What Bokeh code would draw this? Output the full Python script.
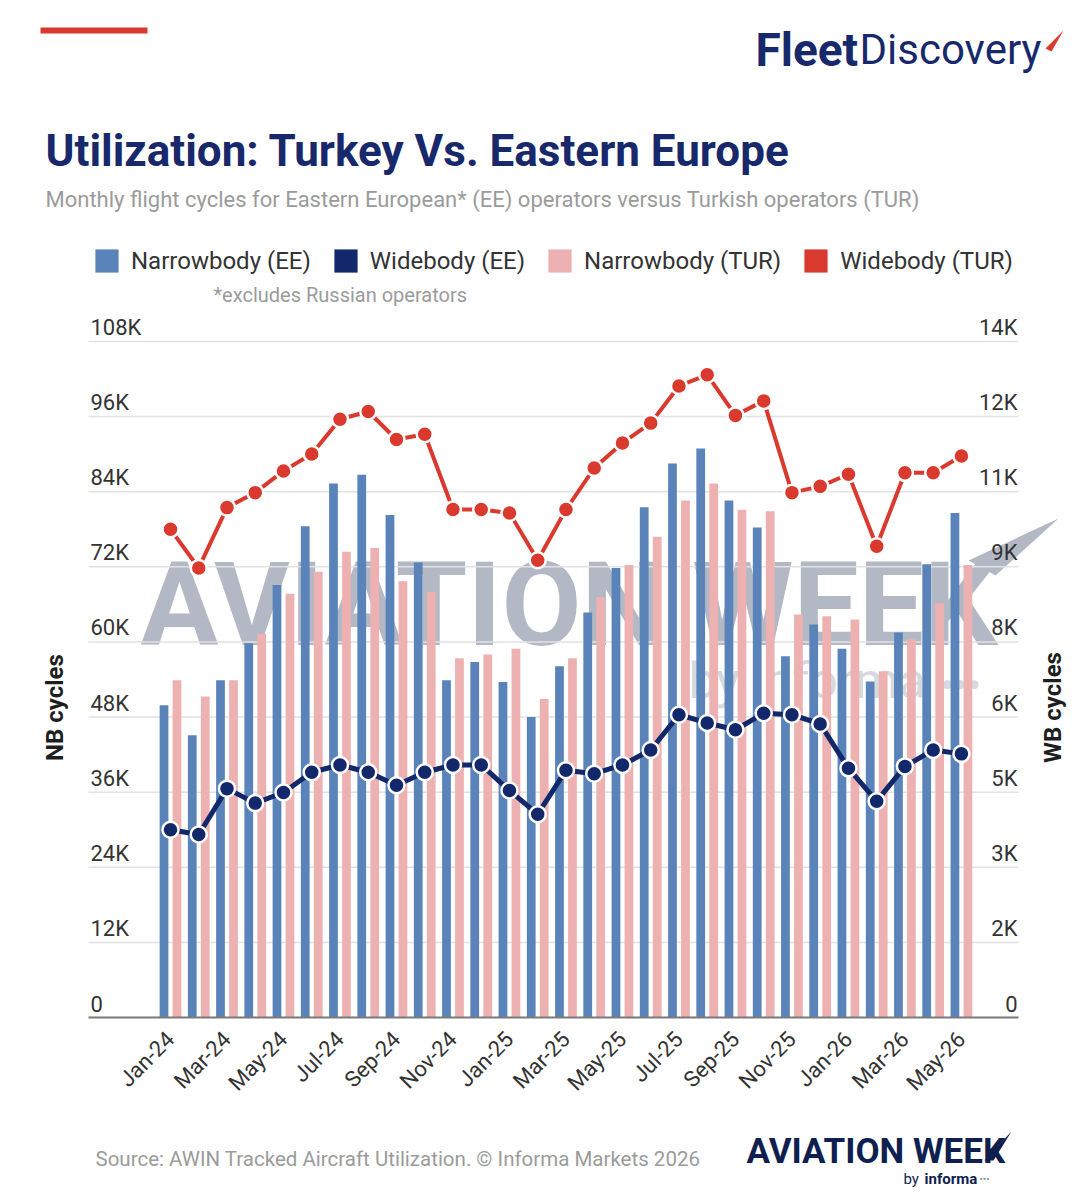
import math
from bokeh.plotting import figure
from bokeh.layouts import column
from bokeh.models import (Range1d, FixedTicker, ColumnDataSource, Label,
                          Legend, LegendItem, BoxAnnotation, PolyAnnotation)
from bokeh.transform import dodge
from bokeh.core.properties import value
from bokeh.embed import file_html
from bokeh.resources import INLINE

# ---------------- data ----------------
months = ["Jan-24", "Feb-24", "Mar-24", "Apr-24", "May-24", "Jun-24", "Jul-24", "Aug-24",
          "Sep-24", "Oct-24", "Nov-24", "Dec-24", "Jan-25", "Feb-25", "Mar-25", "Apr-25",
          "May-25", "Jun-25", "Jul-25", "Aug-25", "Sep-25", "Oct-25", "Nov-25", "Dec-25",
          "Jan-26", "Feb-26", "Mar-26", "Apr-26", "May-26"]

# Narrowbody monthly cycles (left axis)
nb_ee = [49900, 45100, 53900, 59800, 69100, 78500, 85300, 86700, 80300, 72700, 53900, 56800,
         53600, 48000, 56100, 64700, 71800, 81500, 88500, 90900, 82600, 78300, 57700, 62800,
         58900, 53700, 61500, 72400, 80600]
nb_tur = [53900, 51300, 53900, 61300, 67700, 71200, 74400, 75000, 69700, 68000, 57400, 58000,
          58900, 50900, 57400, 67200, 72300, 76800, 82600, 85300, 81100, 80900, 64400, 64100,
          63600, 55300, 60400, 66200, 72300]

# Widebody monthly cycles (right axis)
wb_ee = [3890, 3790, 4740, 4440, 4660, 5080, 5230, 5080, 4810, 5080, 5230, 5230,
         4700, 4210, 5120, 5050, 5230, 5540, 6270, 6100, 5960, 6300, 6270, 6080,
         5160, 4480, 5200, 5540, 5460]
wb_tur = [10110, 9310, 10560, 10870, 11320, 11670, 12390, 12550, 11970, 12080, 10520, 10520,
          10450, 9470, 10520, 11380, 11900, 12310, 13080, 13310, 12470, 12770, 10870, 11000,
          11250, 9760, 11280, 11280, 11630]

nb_ticks = [0, 12000, 24000, 36000, 48000, 60000, 72000, 84000, 96000, 108000]
nb_tick_labels = ["0", "12K", "24K", "36K", "48K", "60K", "72K", "84K", "96K", "108K"]
wb_ticks = [0, 14000 / 9, 28000 / 9, 42000 / 9, 56000 / 9, 70000 / 9, 84000 / 9,
            98000 / 9, 112000 / 9, 14000]
wb_tick_labels = ["0", "2K", "3K", "5K", "6K", "8K", "9K", "11K", "12K", "14K"]

x_tick_idx = list(range(0, len(months), 2))

series_names = ["Narrowbody (EE)", "Widebody (EE)", "Narrowbody (TUR)", "Widebody (TUR)"]

# ---------------- styling / geometry ----------------
FONT = "Roboto"
C_NB_EE = "#5a84b9"
C_WB_EE = "#13286b"
C_NB_TUR = "#eeb1b1"
C_WB_TUR = "#d93a2d"
NAVY = "#17296b"
LOGO_NAVY = "#0f1f4f"
GREY_TXT = "#9b9b9b"
WM_GREY = "#b2b9c5"
W = 1086
MAIN_H, FOOT_H = 1130, 70

# chart area (page pixels): x 88..1018, y 341 (108K) .. 1017 (0)
AREA_L, AREA_R, AXIS_Y, TOP_GRID_Y = 88, 1018, 1017, 341
PLOT_X0, PLOT_X1 = -2.903, 30.02            # x extent of the chart area, in month index
UX = (AREA_R - AREA_L) / (PLOT_X1 - PLOT_X0)  # px per month
XR0 = PLOT_X0 - AREA_L / UX
XR1 = PLOT_X1 + (W - AREA_R) / UX
NB_TOP = 108000 * AXIS_Y / (AXIS_Y - TOP_GRID_Y)
WB_TOP = 14000 * AXIS_Y / (AXIS_Y - TOP_GRID_Y)


def px2x(X):
    return XR0 + X / UX


def py2nb(Y):
    return (AXIS_Y - Y) * NB_TOP / AXIS_Y


# ---------------- main chart ----------------
p = figure(width=W, height=MAIN_H, output_backend="svg", toolbar_location=None,
           x_range=Range1d(XR0, XR1), y_range=Range1d(0, NB_TOP),
           y_axis_location=None,
           min_border=0, min_border_left=0, min_border_right=0, min_border_top=0,
           min_border_bottom=MAIN_H - AXIS_Y)
p.extra_y_ranges = {"wb": Range1d(0, WB_TOP)}
p.outline_line_color = None
p.background_fill_color = "white"
p.border_fill_color = "white"
p.grid.visible = False

xa = p.xaxis[0]
xa.ticker = FixedTicker(ticks=x_tick_idx)
xa.bounds = (PLOT_X0, PLOT_X1)
xa.major_label_overrides = {i: months[i] for i in x_tick_idx}
xa.major_label_orientation = math.pi / 4
xa.major_tick_line_color = None
xa.minor_tick_line_color = None
xa.axis_line_color = "#7a7a7a"
xa.axis_line_width = 2
xa.major_label_text_font = FONT
xa.major_label_text_font_size = "22px"
xa.major_label_text_color = "#333333"
xa.major_label_standoff = 12

src = ColumnDataSource(dict(x=list(range(len(months))), month=months,
                            nb_ee=nb_ee, nb_tur=nb_tur, wb_ee=wb_ee, wb_tur=wb_tur))

# watermark (behind everything)
p.text(x=[px2x(140)], y=[py2nb(604)], text=["AVIATION WEEK"], level="image",
       text_font=value(FONT), text_font_style="bold",
       text_font_size="116px", text_color=WM_GREY, text_baseline="middle")
p.patch(x=[px2x(968), px2x(1058), px2x(995)], y=[py2nb(560), py2nb(518), py2nb(575)],
        level="image", fill_color=WM_GREY, line_color=None)
p.text(x=[px2x(688)], y=[py2nb(680)], text=["by informa"], level="image",
       text_font=value(FONT), text_font_size="50px", text_color="#d6d9de",
       text_baseline="middle")
p.text(x=[px2x(940)], y=[py2nb(686)], text=["\u2022\u2022\u2022"], level="image",
       text_font=value(FONT), text_font_size="40px", text_color="#d6d9de",
       text_baseline="middle")

# horizontal gridlines limited to the chart area
gsrc = ColumnDataSource(dict(y=nb_ticks, x0=[PLOT_X0] * len(nb_ticks),
                             x1=[PLOT_X1] * len(nb_ticks)))
p.segment(x0="x0", x1="x1", y0="y", y1="y", source=gsrc, level="underlay",
          line_color="#e2e2e2", line_width=1.5)

# bars
r_nb_ee = p.vbar(x=dodge("x", -0.23, range=p.x_range), top="nb_ee", width=0.31,
                 source=src, fill_color=C_NB_EE, line_color=None)
r_nb_tur = p.vbar(x=dodge("x", 0.23, range=p.x_range), top="nb_tur", width=0.31,
                  source=src, fill_color=C_NB_TUR, line_color=None)

# lines
p.line("x", "wb_tur", source=src, y_range_name="wb", line_color=C_WB_TUR, line_width=4)
p.scatter("x", "wb_tur", source=src, y_range_name="wb", size=16, fill_color=C_WB_TUR,
          line_color="white", line_width=2.5)
p.line("x", "wb_ee", source=src, y_range_name="wb", line_color=C_WB_EE, line_width=5)
p.scatter("x", "wb_ee", source=src, y_range_name="wb", size=16, fill_color=C_WB_EE,
          line_color="white", line_width=2.5)

# legend proxies for the widebody series (square swatches)
d_wb_ee = p.vbar(x="x", top="wb_ee", width=0.3, source=src, y_range_name="wb",
                 fill_color=C_WB_EE, line_color=None, visible=False)
d_wb_tur = p.vbar(x="x", top="wb_tur", width=0.3, source=src, y_range_name="wb",
                  fill_color=C_WB_TUR, line_color=None, visible=False)

# tick labels drawn inside the chart, above each gridline
lsrc = ColumnDataSource(dict(y=nb_ticks, t=nb_tick_labels, x=[PLOT_X0] * len(nb_ticks)))
p.text(x="x", y="y", text="t", source=lsrc, x_offset=2, y_offset=-14,
       text_align="left", text_baseline="middle", text_font=value(FONT),
       text_font_size="22px", text_color="#333333")
rsrc = ColumnDataSource(dict(y=wb_ticks, t=wb_tick_labels, x=[PLOT_X1] * len(wb_ticks)))
p.text(x="x", y="y", text="t", source=rsrc, y_range_name="wb", x_offset=-1, y_offset=-14,
       text_align="right", text_baseline="middle", text_font=value(FONT),
       text_font_size="22px", text_color="#333333")

legend = Legend(items=[LegendItem(label=series_names[0], renderers=[r_nb_ee]),
                       LegendItem(label=series_names[1], renderers=[d_wb_ee]),
                       LegendItem(label=series_names[2], renderers=[r_nb_tur]),
                       LegendItem(label=series_names[3], renderers=[d_wb_tur])],
                orientation="horizontal", location=(92, AXIS_Y - 275), padding=0, margin=0,
                spacing=20, glyph_width=29, glyph_height=29, label_height=29,
                label_standoff=10, label_text_font=FONT, label_text_font_size="24px",
                label_text_color="#333333", border_line_color=None,
                background_fill_alpha=0, inactive_fill_alpha=0)
p.add_layout(legend)


def slab(text, X, Y, size, color, style="normal", align="left", angle=0.0, font=FONT):
    """Label positioned by page pixels (X, vertical middle of capitals Y)."""
    return Label(x=X, y=AXIS_Y - Y, x_units="screen", y_units="screen",
                 text=text, text_font=font, text_font_size=size, text_color=color,
                 text_font_style=style, text_align=align, text_baseline="middle",
                 angle=angle)


for l in [
    slab("Fleet", 755, 49, "46px", NAVY, "bold"),
    slab("Discovery", 859, 49, "42px", NAVY),
    slab("Utilization: Turkey Vs. Eastern Europe", 45, 150, "44px", NAVY, "bold"),
    slab("Monthly flight cycles for Eastern European* (EE) operators versus Turkish operators (TUR)",
         45, 199, "22px", GREY_TXT),
    slab("*excludes Russian operators", 213, 294, "20px", GREY_TXT),
    slab("NB cycles", 54, 707, "24px", "#1e1e1e", "bold", "center", math.pi / 2),
    slab("WB cycles", 1052, 707, "24px", "#1e1e1e", "bold", "center", math.pi / 2),
]:
    p.add_layout(l)

# red accent bar (top-left) and logo arrow
p.add_layout(BoxAnnotation(left=40, right=147, top=AXIS_Y - 27, bottom=AXIS_Y - 33,
                           left_units="screen", right_units="screen",
                           bottom_units="screen", top_units="screen",
                           fill_color=C_WB_TUR, fill_alpha=1.0, line_color=None))
p.add_layout(PolyAnnotation(xs=[1045, 1063, 1051], ys=[AXIS_Y - 48, AXIS_Y - 30, AXIS_Y - 51],
                            xs_units="screen", ys_units="screen",
                            fill_color=C_WB_TUR, fill_alpha=1.0, line_color=None))

# ---------------- footer ----------------
foot = figure(width=W, height=FOOT_H, output_backend="svg", toolbar_location=None,
              x_range=Range1d(0, W), y_range=Range1d(MAIN_H + FOOT_H, MAIN_H),
              x_axis_location=None, y_axis_location=None,
              min_border=0, min_border_left=0, min_border_right=0,
              min_border_top=0, min_border_bottom=0)
foot.outline_line_color = None
foot.grid.visible = False
foot.background_fill_color = "white"
foot.border_fill_color = "white"


def flab(text, X, Y, size, color, style="normal"):
    return Label(x=X, y=Y, text=text, text_font=FONT, text_font_size=size,
                 text_color=color, text_font_style=style, text_baseline="middle")


for l in [
    flab("Source: AWIN Tracked Aircraft Utilization. \u00a9 Informa Markets 2026",
         95, 1158, "20.5px", GREY_TXT),
    flab("AVIATION WEEK", 746, 1151, "35px", LOGO_NAVY, "bold"),
    flab("by", 903, 1178, "15px", LOGO_NAVY),
    flab("informa", 924, 1178, "15px", LOGO_NAVY, "bold"),
    flab("\u2022\u2022\u2022", 979, 1179, "10px", "#8a93a8"),
]:
    foot.add_layout(l)
foot.add_layout(PolyAnnotation(xs=[984, 1011, 993], ys=[1160, 1131, 1160],
                               fill_color=LOGO_NAVY, fill_alpha=1.0, line_color=None))

layout = column(p, foot, spacing=0)
open("out.html", "w").write(file_html(layout, INLINE))
